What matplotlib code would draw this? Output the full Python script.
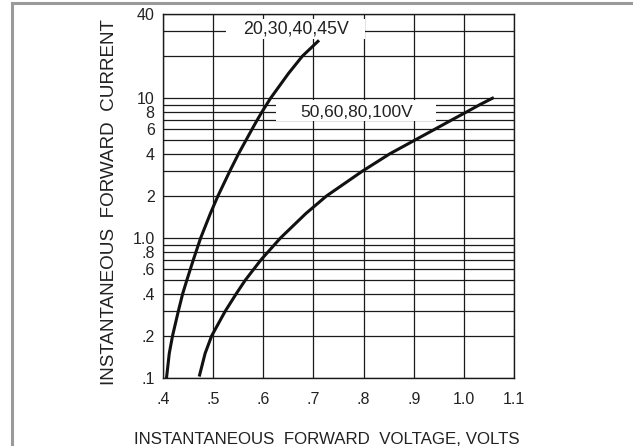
import matplotlib.pyplot as plt
from matplotlib.patches import Rectangle
from matplotlib.lines import Line2D

# Curva 20,30,40,45V (tensão x corrente)
v_baixa = [0.407, 0.4125, 0.419, 0.4305, 0.4392, 0.4475, 0.4605, 0.475, 0.4945, 0.5095,
           0.533, 0.5505, 0.5775, 0.588, 0.5975, 0.6145, 0.650, 0.678, 0.709]
i_baixa = [0.1, 0.15, 0.2, 0.3, 0.4, 0.5, 0.7, 1.0, 1.5, 2.0,
           3.0, 4.0, 6.0, 7.0, 8.0, 10.0, 15.0, 20.0, 25.5]

# Curva 50,60,80,100V
v_alta = [0.473, 0.484, 0.497, 0.524, 0.546, 0.564, 0.581, 0.5955, 0.634, 0.685,
          0.726, 0.797, 0.852, 0.9015, 0.942, 0.976, 1.006, 1.032, 1.057]
i_alta = [0.105, 0.15, 0.2, 0.3, 0.4, 0.5, 0.6, 0.7, 1.0, 1.5,
          2.0, 3.0, 4.0, 5.0, 6.0, 7.0, 8.0, 9.0, 10.0]

xticks = [0.4, 0.5, 0.6, 0.7, 0.8, 0.9, 1.0, 1.1]
xtick_labels = [".4", ".5", ".6", ".7", ".8", ".9", "1.0", "1.1"]
yticks = [0.1, 0.2, 0.4, 0.6, 0.8, 1.0, 2, 4, 6, 8, 10, 40]
ytick_labels = [".1", ".2", ".4", ".6", ".8", "1.0", "2", "4", "6", "8", "10", "40"]
yminor = [0.3, 0.5, 0.7, 0.9, 3, 5, 7, 9, 20, 30]

plt.rcParams["font.family"] = ["Liberation Sans", "DejaVu Sans"]

fig = plt.figure(figsize=(6.33, 4.46), dpi=100)
ax = fig.add_axes([163 / 633, 68 / 446, 351 / 633, 364 / 446])

ax.set_yscale("log")
ax.set_xlim(0.4, 1.1)
ax.set_ylim(0.1, 40)

ax.set_xticks(xticks)
ax.set_xticklabels(xtick_labels)
ax.set_yticks(yticks)
ax.set_yticklabels(ytick_labels)
ax.set_yticks(yminor, minor=True)
ax.yaxis.set_minor_formatter(plt.NullFormatter())
ax.tick_params(axis="x", length=0, pad=10, labelsize=11.5, colors="#222222")
ax.tick_params(axis="y", which="both", length=0, pad=6, labelsize=11.5, colors="#222222")

# grade fina atrás de tudo
ax.grid(True, which="both", color="#1a1a1a", linewidth=0.9, zorder=1)
ax.set_axisbelow(True)
for s in ax.spines.values():
    s.set_color("#1a1a1a")
    s.set_linewidth(1.0)

ax.plot(v_baixa, i_baixa, color="#111111", linewidth=2.2, zorder=3,
        solid_joinstyle="round")
ax.plot(v_alta, i_alta, color="#111111", linewidth=2.2, zorder=3,
        solid_joinstyle="round")

# caixas brancas atrás dos rótulos das curvas
ax.add_patch(Rectangle((0.526, 26.4), 0.802 - 0.526, 36.7 - 26.4,
                       facecolor="white", edgecolor="none", zorder=2))
ax.add_patch(Rectangle((0.626, 6.85), 0.944 - 0.626, 9.76 - 6.85,
                       facecolor="white", edgecolor="none", zorder=2))
ax.text(0.666, 31.5, "20,30,40,45V", ha="center", va="center",
        fontsize=12.8, color="#222222", zorder=4)
ax.text(0.787, 7.95, "50,60,80,100V", ha="center", va="center",
        fontsize=12.5, color="#222222", zorder=4)

# títulos dos eixos
fig.text(110 / 633, 0.546, "INSTANTANEOUS  FORWARD  CURRENT", rotation=90,
         ha="center", va="center", fontsize=13.6, color="#222222")
fig.text(327 / 633, 2 / 446, "INSTANTANEOUS  FORWARD  VOLTAGE, VOLTS",
         ha="center", va="baseline", fontsize=12.2, color="#222222")

# moldura cinza (topo e lado esquerdo)
fig.add_artist(Line2D([12 / 633, 1], [443.5 / 446, 443.5 / 446],
                      transform=fig.transFigure, color="#9a9a9a", linewidth=2.2))
fig.add_artist(Line2D([12 / 633, 12 / 633], [0, 443.5 / 446],
                      transform=fig.transFigure, color="#9a9a9a", linewidth=2.2))

fig.savefig("out.png", dpi=100)
